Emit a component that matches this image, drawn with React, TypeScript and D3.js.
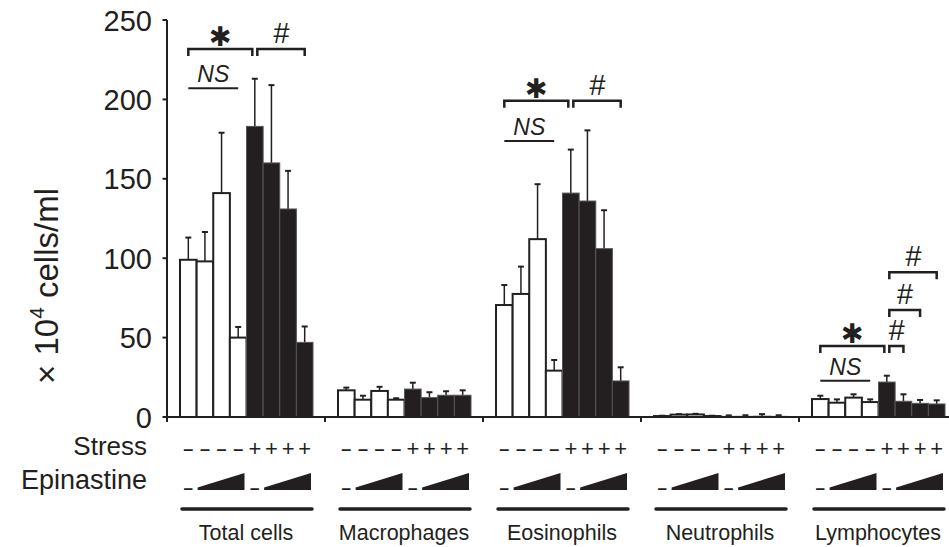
import React from "react";
import * as d3 from "d3";

const categories = ["Total cells", "Macrophages", "Eosinophils", "Neutrophils", "Lymphocytes"];
const totalMeans = [99, 98, 141, 50, 183, 160, 131, 47];
const totalErr = [14, 18.5, 38, 6.7, 30, 49, 24, 10];
const macMeans = [16.8, 10.9, 16.4, 10.9, 17.6, 12.2, 13.7, 13.7];
const macErr = [1.7, 2.5, 2.6, 0.9, 4, 3.4, 2.5, 3.1];
const eosMeans = [70.5, 77.5, 112, 29.2, 141, 136, 106, 22.7];
const eosErr = [12.6, 17.2, 34.6, 6.7, 27.4, 44.5, 24.2, 8.6];
const neuMeans = [0.6, 1.5, 1.6, 0.6, 0.4, 0.4, 0.5, 0.4];
const neuErr = [0.2, 0.3, 0.4, 0.2, 0.6, 0.7, 1.3, 0.7];
const lymMeans = [11.3, 9.0, 12.2, 9.4, 22, 9.9, 8.6, 8.2];
const lymErr = [2.1, 2.1, 2.1, 1.7, 4, 4.4, 2.1, 2.3];
const allMeans = [totalMeans, macMeans, eosMeans, neuMeans, lymMeans];
const allErr = [totalErr, macErr, eosErr, neuErr, lymErr];
const stressSigns = ["–", "–", "–", "–", "+", "+", "+", "+"];
const epinastineDose = [0, 1, 2, 3, 0, 1, 2, 3];
const yTicks = [0, 50, 100, 150, 200, 250];
const brackets = [
  { g: 0, from: 0, to: 4, y: 231.7, label: "✱" },
  { g: 0, from: 4, to: 7, y: 231.7, label: "#" },
  { g: 2, from: 0, to: 4, y: 199.2, label: "✱" },
  { g: 2, from: 4, to: 7, y: 199.2, label: "#" },
  { g: 4, from: 0, to: 4, y: 44.7, label: "✱" },
  { g: 4, from: 4, to: 5, y: 44.7, label: "#" },
  { g: 4, from: 4, to: 6, y: 67.4, label: "#" },
  { g: 4, from: 4, to: 7, y: 91.1, label: "#" },
];
const nsLines = [
  { g: 0, from: 0, to: 3, y: 207 },
  { g: 2, from: 0, to: 3, y: 173.8 },
  { g: 4, from: 0, to: 3, y: 22.9 },
];

const INK = "#231f20";
const FONT = "'Liberation Sans', Arial, Helvetica, sans-serif";

export default function App() {
  const W = 949, H = 547;
  const x0 = 167, y0 = 417;
  const y = d3.scaleLinear().domain([0, 250]).range([y0, 20]);
  const gx = d3.scaleBand<string>().domain(categories).range([x0, x0 + 158 * 5]).padding(0);
  const bx = d3.scaleBand<number>().domain(d3.range(8)).range([13, 146]).padding(0);
  const bw = bx.bandwidth();
  const barX = (g: number, i: number) => (gx(categories[g]) as number) + (bx(i) as number);
  const barC = (g: number, i: number) => barX(g, i) + bw / 2;

  return (
    <svg width={W} height={H} style={{ position: "absolute", left: 0, top: 0, background: "#fff" }} fontFamily={FONT}>
      {/* bars */}
      {allMeans.map((vals, g) =>
        vals.map((v, i) => {
          const top = y(v);
          const et = y(v + allErr[g][i]);
          const cx = barC(g, i);
          const black = i >= 4;
          return (
            <g key={`b${g}-${i}`}>
              <line x1={cx} x2={cx} y1={top} y2={et} stroke={INK} strokeWidth={1.5} />
              <line x1={cx - 3} x2={cx + 3} y1={et} y2={et} stroke={INK} strokeWidth={2} />
              <rect
                x={barX(g, i)}
                y={top}
                width={bw}
                height={y0 - top}
                fill={black ? INK : "#fff"}
                stroke={black ? "#555" : INK}
                strokeWidth={black ? 1 : 2}
              />
            </g>
          );
        })
      )}
      {/* y axis */}
      <line x1={x0} x2={x0} y1={20} y2={y0 + 5} stroke={INK} strokeWidth={2} />
      {yTicks.map((t) => (
        <g key={`t${t}`}>
          <line x1={x0 - 4.5} x2={x0} y1={y(t)} y2={y(t)} stroke={INK} strokeWidth={2} />
          <text x={152} y={y(t) + 10.5} textAnchor="end" fontSize={29} fill={INK}>
            {t}
          </text>
        </g>
      ))}
      {/* x axis */}
      <line x1={x0} x2={W} y1={y0} y2={y0} stroke={INK} strokeWidth={2} />
      {categories.map((c, g) => (
        <line key={`xt${g}`} x1={(gx(c) as number) + 158} x2={(gx(c) as number) + 158} y1={y0} y2={y0 + 5} stroke={INK} strokeWidth={2} />
      ))}
      {/* y label */}
      <text transform={`translate(58,286) rotate(-90)`} textAnchor="middle" fontSize={33} fill={INK}>
        × 10<tspan fontSize={21} dy={-14}>4</tspan>
        <tspan dy={14}> cells/ml</tspan>
      </text>
      {/* brackets */}
      {brackets.map((b, k) => {
        let xa = barC(b.g, b.from);
        let xb = barC(b.g, b.to);
        if (b.from === 4) xa += 2.5;
        if (b.to === 4) xb -= 2.5;
        const yy = y(b.y);
        const mid = (xa + xb) / 2;
        return (
          <g key={`br${k}`}>
            <path d={`M${xa},${yy + 7}V${yy}H${xb}V${yy + 7}`} fill="none" stroke={INK} strokeWidth={2.5} />
            {b.label === "✱" ? (
              <text x={mid} y={yy - 3} textAnchor="middle" fontSize={27} fontFamily="'DejaVu Sans', sans-serif" fill={INK}>
                {b.label}
              </text>
            ) : (
              <text x={mid} y={yy - 6} textAnchor="middle" fontSize={29} fontStyle="italic" fill={INK}>
                {b.label}
              </text>
            )}
          </g>
        );
      })}
      {nsLines.map((n, k) => {
        const xa = barC(n.g, n.from);
        const xb = barC(n.g, n.to);
        const yy = y(n.y);
        return (
          <g key={`ns${k}`}>
            <line x1={xa} x2={xb} y1={yy} y2={yy} stroke={INK} strokeWidth={2} />
            <text x={(xa + xb) / 2} y={yy - 6} textAnchor="middle" fontSize={23} fontStyle="italic" fill={INK}>
              NS
            </text>
          </g>
        );
      })}
      {/* row labels */}
      <text x={147} y={455} textAnchor="end" fontSize={26} fill={INK}>Stress</text>
      <text x={147} y={489} textAnchor="end" fontSize={27} fill={INK}>Epinastine</text>
      {categories.map((c, g) => {
        const gl = gx(c) as number;
        const left = barX(g, 0);
        const right = barX(g, 7) + bw;
        return (
          <g key={`lab${g}`}>
            {stressSigns.map((s, i) => (
              <text key={`s${i}`} x={barC(g, i)} y={s === "+" ? 456 : 455} textAnchor="middle" fontSize={s === "+" ? 22 : 18} fontWeight={s === "+" ? "normal" : "bold"} fill={INK}>
                {s}
              </text>
            ))}
            {epinastineDose.map((d, i) =>
              d === 0 ? (
                <text key={`e${i}`} x={barC(g, i)} y={494} textAnchor="middle" fontSize={17} fontWeight="bold" fill={INK}>
                  –
                </text>
              ) : null
            )}
            {[1, 5].map((s) => {
              const xa = barX(g, s) + 1;
              const xb = barX(g, s + 2) + bw - 2;
              return <path key={`w${s}`} d={`M${xa},${487.5}L${xb},${473}L${xb},${490}L${xa},${490}Z`} fill={INK} />;
            })}
            <line x1={left + 2} x2={right - 1} y1={509} y2={509} stroke={INK} strokeWidth={3.5} strokeLinecap="round" />
            <text x={gl + 79} y={540} textAnchor="middle" fontSize={21.5} fill={INK}>
              {c}
            </text>
          </g>
        );
      })}
    </svg>
  );
}
